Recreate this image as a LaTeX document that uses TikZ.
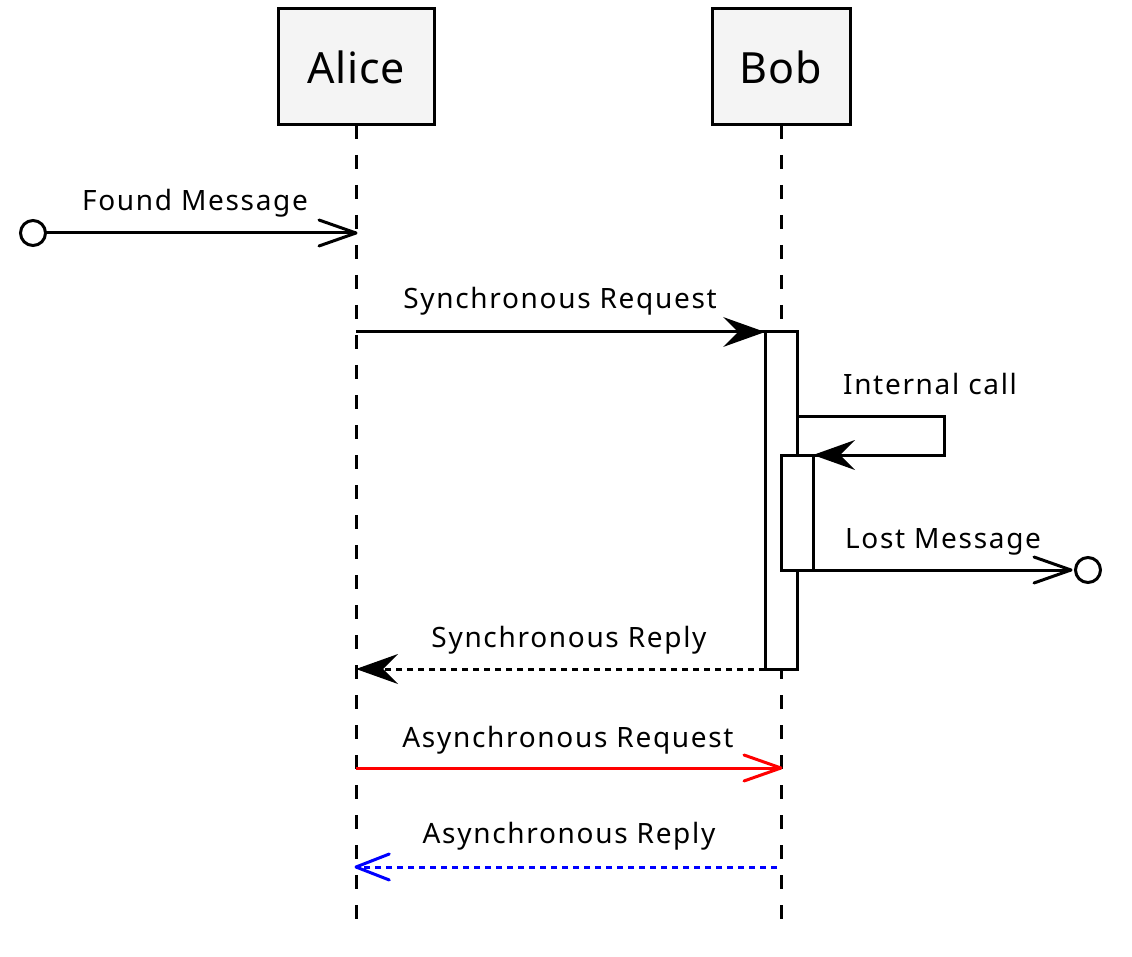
\documentclass[tikz,border=0pt]{standalone}
\usepackage{fontspec}
\setmainfont{Noto Sans}
\begin{document}
\begin{tikzpicture}[x=1pt,y=-1pt,
  every node/.style={inner sep=0pt,outer sep=0pt},
  participant/.style={draw,line width=3pt,fill=boxfill,minimum height=116pt,font=\fontsize{43}{50}\selectfont\addfontfeature{LetterSpace=2}},
  lifeline/.style={line width=3pt,dash pattern=on 14pt off 16pt},
  activation/.style={draw,line width=3pt,fill=white,minimum width=32pt},
  msg/.style={line width=3pt},
  dotmsg/.style={line width=3pt,dash pattern=on 6pt off 5pt},
  endcircle/.style={circle,draw,line width=3pt,fill=white,minimum size=25pt},
  lbl/.style={anchor=base,font=\fontsize{28}{32}\selectfont\addfontfeature{LetterSpace=6}},
  openhead/.pic={\draw[line width=3pt,line join=round,line cap=round] (-37,-13) -- (0,0) -- (-37,13);},
  fillhead/.pic={\fill[line join=miter] (0,0) -- (-42,-15) -- (-27,0) -- (-42,15) -- cycle;}
]
\definecolor{boxfill}{HTML}{F4F4F4}
\useasboundingbox (0,0) rectangle (1132,957);

% participants
\node[participant,minimum width=156pt] (alice) at (356,67) {Alice};
\node[participant,minimum width=138pt] (bob) at (781,67) {Bob};
\coordinate (aliceend) at (356,923);
\coordinate (bobend) at (781,923);
\draw[lifeline] (alice.south) -- (aliceend);
\draw[lifeline] (bob.south) -- (bobend);

% activations
\node[activation,minimum height=337pt] (act1) at (781,500.5) {};
\node[activation,minimum height=115pt] (act2) at (797,512.5) {};

% found message
\node[endcircle] (found) at (33,233) {};
\coordinate (foundtip) at (356,233);
\draw[msg] (found.east) -- (foundtip);
\pic at (foundtip) {openhead};
\node[lbl] (lfound) at (195,211) {Found Message};

% synchronous request
\coordinate (sreqs) at (356,332);
\draw[msg] (sreqs) -- (act1.north west);
\pic at (act1.north west) {fillhead};
\node[lbl] (lsreq) at (560,309) {Synchronous Request};

% internal call
\coordinate (icall) at (act1.east |- 0,416);
\coordinate (icallr) at (944,416);
\draw[msg] (icall) -- (icallr) |- (act2.north east);
\pic[rotate=180] at (act2.north east) {fillhead};
\node[lbl] (lint) at (930,394) {Internal call};

% lost message
\node[endcircle] (lost) at (1088,570) {};
\coordinate (losttip) at (1071,570);
\draw[msg] (act2.south east) -- (losttip);
\pic at (losttip) {openhead};
\node[lbl] (llost) at (943,548) {Lost Message};

% synchronous reply
\coordinate (srept) at (356,669);
\draw[dotmsg] (act1.south west) -- (srept);
\pic[rotate=180] at (srept) {fillhead};
\node[lbl] (lsrep) at (569,647) {Synchronous Reply};

% asynchronous request
\coordinate (areqs) at (356,768);
\coordinate (areqt) at (781,768);
\draw[msg,red] (areqs) -- (areqt);
\pic[red] at (areqt) {openhead};
\node[lbl] (lareq) at (568,747) {Asynchronous Request};

% asynchronous reply
\coordinate (areps) at (777,867);
\coordinate (arept) at (356,867);
\draw[dotmsg,blue] (areps) -- (arept);
\pic[blue,rotate=180,xscale=0.9] at (arept) {openhead};
\node[lbl] (larep) at (569,843) {Asynchronous Reply};
\end{tikzpicture}
\end{document}
